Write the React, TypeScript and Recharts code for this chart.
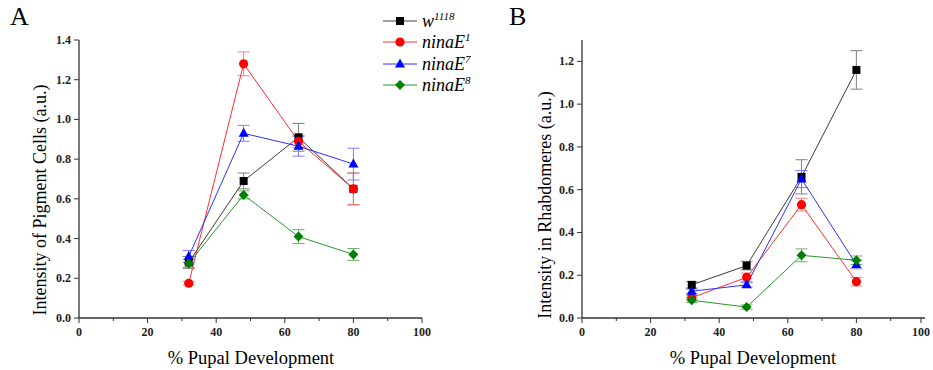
import { ErrorBar, Line, LineChart, XAxis, YAxis } from "recharts";

// % pupal development at which each sample was taken
const pupalPct = [32, 48, 64, 80];

// Panel A: intensity of pigment cells (a.u.)
const pigW1118 = [0.28, 0.69, 0.91, 0.65];
const pigW1118Err = [0.03, 0.04, 0.07, 0.08];
const pigE1 = [0.175, 1.28, 0.89, 0.65];
const pigE1Err = [0.01, 0.06, 0.03, 0.08];
const pigE7 = [0.31, 0.93, 0.865, 0.775];
const pigE7Err = [0.03, 0.04, 0.05, 0.08];
const pigE8 = [0.275, 0.62, 0.41, 0.32];
const pigE8Err = [0.02, 0.02, 0.035, 0.03];

// Panel B: intensity in rhabdomeres (a.u.)
const rhbW1118 = [0.155, 0.245, 0.66, 1.16];
const rhbW1118Err = [0.015, 0.02, 0.08, 0.09];
const rhbE1 = [0.095, 0.19, 0.53, 0.17];
const rhbE1Err = [0.01, 0.02, 0.03, 0.02];
const rhbE7 = [0.125, 0.155, 0.65, 0.25];
const rhbE7Err = [0.01, 0.01, 0.04, 0.02];
const rhbE8 = [0.083, 0.051, 0.293, 0.27];
const rhbE8Err = [0.01, 0.01, 0.03, 0.02];

// axis ticks (majors get labels, the rest are minor ticks)
const xTicks = [0, 10, 20, 30, 40, 50, 60, 70, 80, 90, 100];
const yTicksA = [0, 0.1, 0.2, 0.3, 0.4, 0.5, 0.6, 0.7, 0.8, 0.9, 1.0, 1.1, 1.2, 1.3, 1.4];
const yTicksB = [0, 0.1, 0.2, 0.3, 0.4, 0.5, 0.6, 0.7, 0.8, 0.9, 1.0, 1.1, 1.2];

type Shape = "square" | "circle" | "triangle" | "diamond";

const series: { key: string; base: string; sup: string; color: string; errColor: string; lineColor: string; shape: Shape }[] = [
  { key: "w1118", base: "w", sup: "1118", color: "#000000", errColor: "#707070", lineColor: "#3a3a3a", shape: "square" },
  { key: "e1", base: "ninaE", sup: "1", color: "#ff0000", errColor: "#ff7070", lineColor: "#ff3030", shape: "circle" },
  { key: "e7", base: "ninaE", sup: "7", color: "#0000ff", errColor: "#7070ff", lineColor: "#3030ff", shape: "triangle" },
  { key: "e8", base: "ninaE", sup: "8", color: "#008000", errColor: "#55b055", lineColor: "#2a962a", shape: "diamond" },
];

const buildRows = (cols: Record<string, number[]>) =>
  pupalPct.map((x, i) => {
    const row: Record<string, number> = { x };
    Object.keys(cols).forEach((k) => (row[k] = cols[k][i]));
    return row;
  });

const pigmentRows = buildRows({
  w1118: pigW1118, w1118Err: pigW1118Err,
  e1: pigE1, e1Err: pigE1Err,
  e7: pigE7, e7Err: pigE7Err,
  e8: pigE8, e8Err: pigE8Err,
});

const rhabdomereRows = buildRows({
  w1118: rhbW1118, w1118Err: rhbW1118Err,
  e1: rhbE1, e1Err: rhbE1Err,
  e7: rhbE7, e7Err: rhbE7Err,
  e8: rhbE8, e8Err: rhbE8Err,
});

const SERIF = '"Liberation Serif", "DejaVu Serif", serif';
const AXIS = "#333333";

function Marker({ shape, cx, cy, color }: { shape: Shape; cx: number; cy: number; color: string }) {
  if (shape === "square") return <rect x={cx - 4} y={cy - 4} width={8} height={8} fill={color} />;
  if (shape === "circle") return <circle cx={cx} cy={cy} r={4.6} fill={color} />;
  if (shape === "triangle")
    return <polygon points={`${cx},${cy - 5.5} ${cx + 5},${cy + 3.5} ${cx - 5},${cy + 3.5}`} fill={color} />;
  return <polygon points={`${cx},${cy - 5} ${cx + 5},${cy} ${cx},${cy + 5} ${cx - 5},${cy}`} fill={color} />;
}

const isMajor = (v: number, step: number) => Math.abs(v / step - Math.round(v / step)) < 1e-6;

function YTick(props: any) {
  const { x, y, payload } = props;
  const major = isMajor(payload.value, 0.2);
  return (
    <g>
      <line x1={x} x2={x - (major ? 5 : 3)} y1={y} y2={y} stroke={AXIS} strokeWidth={1} />
      {major ? (
        <text x={x - 8} y={y} dy={4} textAnchor="end" fontFamily={SERIF} fontWeight="bold" fontSize={12} fill="#222">
          {payload.value.toFixed(1)}
        </text>
      ) : null}
    </g>
  );
}

function XTick(props: any) {
  const { x, y, payload } = props;
  const major = isMajor(payload.value, 20);
  return (
    <g>
      <line x1={x} x2={x} y1={y} y2={y + (major ? 5 : 3)} stroke={AXIS} strokeWidth={1} />
      {major ? (
        <text x={x} y={y + 18} textAnchor="middle" fontFamily={SERIF} fontWeight="bold" fontSize={12} fill="#222">
          {payload.value}
        </text>
      ) : null}
    </g>
  );
}

function Panel({
  data,
  width,
  leftMargin,
  rightMargin,
  yMax,
  yTicks,
}: {
  data: Record<string, number>[];
  width: number;
  leftMargin: number;
  rightMargin: number;
  yMax: number;
  yTicks: number[];
}) {
  return (
    <LineChart width={width} height={370} data={data} margin={{ top: 40, right: rightMargin, bottom: 22, left: leftMargin }}>
      <XAxis
        dataKey="x"
        type="number"
        domain={[0, 100]}
        ticks={xTicks}
        tick={XTick}
        tickLine={false}
        tickSize={0}
        tickMargin={0}
        height={30}
        axisLine={{ stroke: AXIS, strokeWidth: 1.3 }}
      />
      <YAxis
        type="number"
        domain={[0, yMax]}
        ticks={yTicks}
        tick={YTick}
        tickLine={false}
        tickSize={0}
        tickMargin={0}
        width={60}
        axisLine={{ stroke: AXIS, strokeWidth: 1.3 }}
      />
      {series.map((s) => (
        <Line
          key={s.key}
          dataKey={s.key}
          type="linear"
          stroke={s.lineColor}
          strokeWidth={1}
          isAnimationActive={false}
          activeDot={false}
          dot={(p: any) => <Marker key={`${s.key}-${p.index}`} shape={s.shape} cx={p.cx} cy={p.cy} color={s.color} />}
        >
          <ErrorBar dataKey={`${s.key}Err`} direction="y" width={6} stroke={s.errColor} strokeWidth={0.9} />
        </Line>
      ))}
    </LineChart>
  );
}

function Legend() {
  return (
    <div style={{ position: "absolute", left: 380, top: 10 }}>
      {series.map((s) => (
        <div key={s.key} style={{ display: "flex", alignItems: "center", height: 21.5 }}>
          <svg width={40} height={14}>
            <line x1={3} x2={37} y1={7} y2={7} stroke={s.lineColor} strokeWidth={1} />
            <Marker shape={s.shape} cx={20} cy={7} color={s.color} />
          </svg>
          <span style={{ fontFamily: SERIF, fontStyle: "italic", fontSize: 18, marginLeft: 2, lineHeight: "18px" }}>
            {s.base}
            <sup style={{ fontSize: 11, verticalAlign: "7px", lineHeight: 0 }}>{s.sup}</sup>
          </span>
        </div>
      ))}
    </div>
  );
}

const abs = (left: number, top: number): React.CSSProperties => ({ position: "absolute", left, top });

export default function App() {
  return (
    <div style={{ position: "absolute", left: 0, top: 0, width: 933, height: 370, background: "#fff", fontFamily: SERIF }}>
      <div style={abs(0, 0)}>
        <Panel data={pigmentRows} width={466} leftMargin={19} rightMargin={44} yMax={1.4} yTicks={yTicksA} />
      </div>
      <div style={abs(466, 0)}>
        <Panel data={rhabdomereRows} width={467} leftMargin={56} rightMargin={8} yMax={1.3} yTicks={yTicksB} />
      </div>

      <div style={{ ...abs(10, 2), fontSize: 26, lineHeight: "30px" }}>A</div>
      <div style={{ ...abs(509, 2), fontSize: 26, lineHeight: "30px" }}>B</div>

      <div
        style={{
          position: "absolute",
          left: 40,
          top: 200,
          transform: "translate(-50%, -50%) rotate(-90deg)",
          whiteSpace: "nowrap",
          fontSize: 18,
        }}
      >
        Intensity of Pigment Cells (a.u.)
      </div>
      <div
        style={{
          position: "absolute",
          left: 545,
          top: 205,
          transform: "translate(-50%, -50%) rotate(-90deg)",
          whiteSpace: "nowrap",
          fontSize: 18,
        }}
      >
        Intensity in Rhabdomeres (a.u.)
      </div>

      <div style={{ position: "absolute", left: 251, top: 358, transform: "translate(-50%, -50%)", whiteSpace: "nowrap", fontSize: 18.5 }}>
        % Pupal Development
      </div>
      <div style={{ position: "absolute", left: 753, top: 358, transform: "translate(-50%, -50%)", whiteSpace: "nowrap", fontSize: 18.5 }}>
        % Pupal Development
      </div>

      <Legend />
    </div>
  );
}
